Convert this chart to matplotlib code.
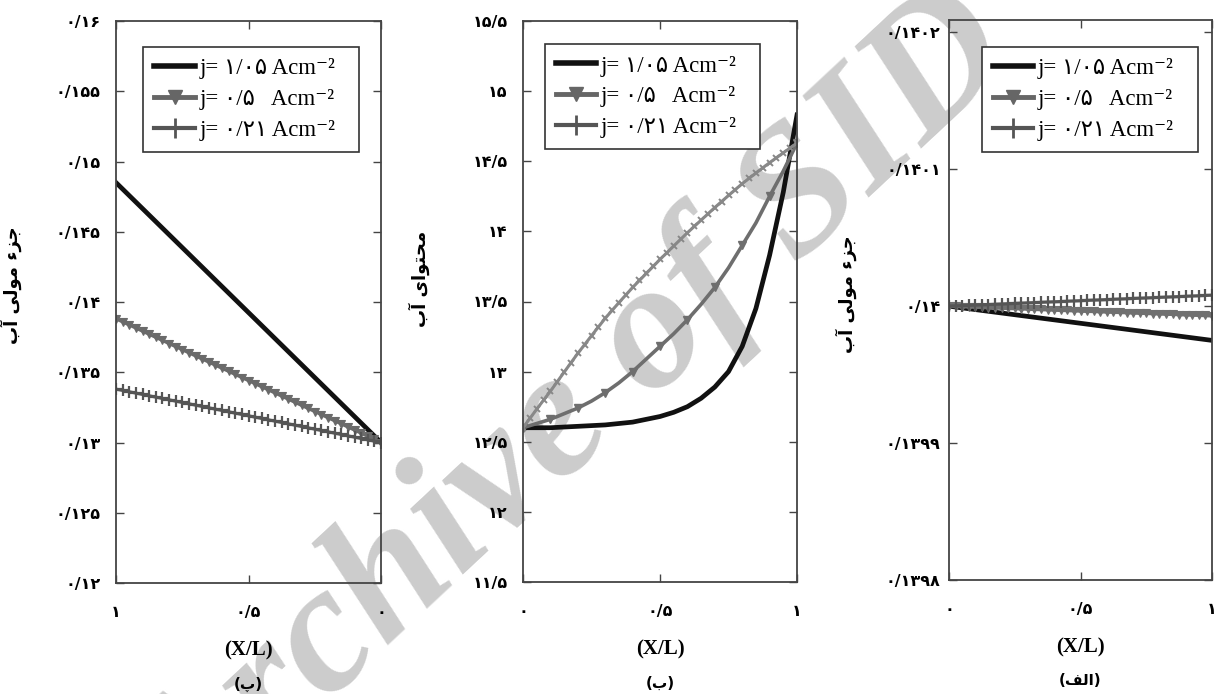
import matplotlib
matplotlib.use("Agg")
import matplotlib.pyplot as plt
from matplotlib.lines import Line2D
from matplotlib.font_manager import FontProperties

# ---------------- data ----------------
X11 = [0.0, 0.1, 0.2, 0.3, 0.4, 0.5, 0.6, 0.7, 0.8, 0.9, 1.0]
X21 = [0.0, 0.05, 0.1, 0.15, 0.2, 0.25, 0.3, 0.35, 0.4, 0.45, 0.5,
       0.55, 0.6, 0.65, 0.7, 0.75, 0.8, 0.85, 0.9, 0.95, 1.0]
X41 = [0.0, 0.025, 0.05, 0.075, 0.1, 0.125, 0.15, 0.175, 0.2, 0.225,
       0.25, 0.275, 0.3, 0.325, 0.35, 0.375, 0.4, 0.425, 0.45, 0.475,
       0.5, 0.525, 0.55, 0.575, 0.6, 0.625, 0.65, 0.675, 0.7, 0.725,
       0.75, 0.775, 0.8, 0.825, 0.85, 0.875, 0.9, 0.925, 0.95, 0.975, 1.0]

# panel (پ): water mole fraction, x axis reversed
P1_J105 = [0.13, 0.13185, 0.1337, 0.13555, 0.1374, 0.13925, 0.1411,
           0.14295, 0.1448, 0.14665, 0.1485]
P1_J05 = [0.13000, 0.13022, 0.13044, 0.13066, 0.13088, 0.13110, 0.13132,
          0.13154, 0.13176, 0.13198, 0.13220, 0.13242, 0.13264, 0.13286,
          0.13308, 0.13330, 0.13352, 0.13374, 0.13396, 0.13418, 0.13440,
          0.13462, 0.13484, 0.13506, 0.13528, 0.13550, 0.13572, 0.13594,
          0.13616, 0.13638, 0.13660, 0.13682, 0.13704, 0.13726, 0.13748,
          0.13770, 0.13792, 0.13814, 0.13836, 0.13858, 0.13880]
P1_J021 = [0.130000, 0.130095, 0.130190, 0.130285, 0.130380, 0.130475,
           0.130570, 0.130665, 0.130760, 0.130855, 0.130950, 0.131045,
           0.131140, 0.131235, 0.131330, 0.131425, 0.131520, 0.131615,
           0.131710, 0.131805, 0.131900, 0.131995, 0.132090, 0.132185,
           0.132280, 0.132375, 0.132470, 0.132565, 0.132660, 0.132755,
           0.132850, 0.132945, 0.133040, 0.133135, 0.133230, 0.133325,
           0.133420, 0.133515, 0.133610, 0.133705, 0.133800]

# panel (ب): water content
P2_J105 = [12.60, 12.60, 12.60, 12.605, 12.61, 12.615, 12.62, 12.63, 12.64,
           12.66, 12.68, 12.71, 12.75, 12.81, 12.89, 13.00, 13.18, 13.45,
           13.83, 14.28, 14.83]
P2_J05 = [12.60, 12.63, 12.66, 12.70, 12.74, 12.79, 12.85, 12.92, 13.00,
          13.09, 13.18, 13.27, 13.37, 13.48, 13.60, 13.74, 13.90, 14.06,
          14.25, 14.43, 14.63]
P2_J021 = [12.600, 12.666, 12.732, 12.797, 12.860, 12.928, 12.996, 13.063,
           13.130, 13.193, 13.256, 13.318, 13.380, 13.436, 13.492, 13.546,
           13.600, 13.650, 13.700, 13.750, 13.800, 13.848, 13.896, 13.943,
           13.990, 14.035, 14.080, 14.125, 14.170, 14.213, 14.256, 14.298,
           14.340, 14.378, 14.416, 14.453, 14.490, 14.525, 14.560, 14.595,
           14.630]

# panel (الف): water mole fraction
P3_J105 = [0.14, 0.1399975, 0.139995, 0.1399925, 0.13999, 0.1399875,
           0.139985, 0.1399825, 0.13998, 0.1399775, 0.139975]
P3_J05 = [0.1400000, 0.1399998, 0.1399997, 0.1399995, 0.1399993, 0.1399991,
          0.1399990, 0.1399988, 0.1399986, 0.1399984, 0.1399983, 0.1399981,
          0.1399979, 0.1399977, 0.1399976, 0.1399974, 0.1399972, 0.1399970,
          0.1399969, 0.1399967, 0.1399965, 0.1399963, 0.1399962, 0.1399960,
          0.1399958, 0.1399956, 0.1399955, 0.1399953, 0.1399951, 0.1399949,
          0.1399948, 0.1399946, 0.1399944, 0.1399942, 0.1399941, 0.1399939,
          0.1399937, 0.1399935, 0.1399934, 0.1399932, 0.1399930]
P3_J021 = [0.1400000, 0.1400002, 0.1400004, 0.1400006, 0.1400008, 0.1400010,
           0.1400012, 0.1400014, 0.1400016, 0.1400018, 0.1400020, 0.1400022,
           0.1400024, 0.1400026, 0.1400028, 0.1400030, 0.1400032, 0.1400034,
           0.1400036, 0.1400038, 0.1400040, 0.1400042, 0.1400044, 0.1400046,
           0.1400048, 0.1400050, 0.1400052, 0.1400054, 0.1400056, 0.1400058,
           0.1400060, 0.1400062, 0.1400064, 0.1400066, 0.1400068, 0.1400070,
           0.1400072, 0.1400074, 0.1400076, 0.1400078, 0.1400080]

# tick labels
X_TICKS = [0, 0.5, 1]
X_TICKLABELS = ["۰", "۰/۵", "۱"]
P1_YTICKS = [0.12, 0.125, 0.13, 0.135, 0.14, 0.145, 0.15, 0.155, 0.16]
P1_YLABELS = ["۰/۱۲", "۰/۱۲۵", "۰/۱۳", "۰/۱۳۵", "۰/۱۴", "۰/۱۴۵", "۰/۱۵",
              "۰/۱۵۵", "۰/۱۶"]
P2_YTICKS = [11.5, 12, 12.5, 13, 13.5, 14, 14.5, 15, 15.5]
P2_YLABELS = ["۱۱/۵", "۱۲", "۱۲/۵", "۱۳", "۱۳/۵", "۱۴", "۱۴/۵", "۱۵", "۱۵/۵"]
P3_YTICKS = [0.1398, 0.1399, 0.14, 0.1401, 0.1402]
P3_YLABELS = ["۰/۱۳۹۸", "۰/۱۳۹۹", "۰/۱۴", "۰/۱۴۰۱", "۰/۱۴۰۲"]

LEGEND_LABELS = ["j= ۱/۰۵ Acm⁻²", "j= ۰/۵   Acm⁻²", "j= ۰/۲۱ Acm⁻²"]

# Persian texts in visual order with presentation forms
YLABEL_MOLE = "\uFE8F\uFE81 \uFBFD\uFEDF\uFEEE\uFEE3 \uFE80\uFEB0\uFE9F"   # جزء مولی آب
YLABEL_CONTENT = "\uFE8F\uFE81 \uFBFC\uFE8D\uFEEE\uFE98\uFEA4\uFEE3"        # محتوای آب
CAPTIONS = ["(\uFB56)", "(\uFE8F)", "(\uFED2\uFEDF\uFE8D)"]                  # (پ) (ب) (الف)
XLABEL = "(X/L)"
WATERMARK = "Archive of SID"

# ---------------- figure ----------------
fig = plt.figure(figsize=(12.2, 6.94), dpi=100)
fig.patch.set_facecolor("white")

W, H = 1220.0, 694.0
def box(l, r, t, b):
    return [l / W, (H - b) / H, (r - l) / W, (b - t) / H]

ax1 = fig.add_axes(box(116, 381, 21, 583))
ax2 = fig.add_axes(box(523, 797, 21, 582))
ax3 = fig.add_axes(box(949, 1212, 20, 580))

# watermark of the source scan (behind the data, runs off the page)
fig.text(0.471, 0.395, WATERMARK, rotation=43, fontsize=132,
         fontweight="bold", style="italic", family="Liberation Serif",
         color="#cccccc", ha="center", va="center", zorder=-1,
         rotation_mode="anchor")

tick_font = dict(family=["DejaVu Sans"], weight="bold", size=11.5)
serif_list = ["Liberation Serif", "DejaVu Sans"]

def style_axes(ax, yticks, ylabels, ylim, reverse=False, ypad=10):
    ax.set_facecolor("none")
    ax.set_xlim(1, 0) if reverse else ax.set_xlim(0, 1)
    ax.set_ylim(*ylim)
    ax.set_xticks(X_TICKS)
    ax.set_xticklabels(X_TICKLABELS, fontdict=tick_font)
    ax.set_yticks(yticks)
    ax.set_yticklabels(ylabels, fontdict=tick_font)
    ax.tick_params(direction="in", top=True, right=True, length=6,
                   width=1.0, color="#444444")
    ax.tick_params(axis="x", pad=16)
    ax.tick_params(axis="y", pad=ypad)
    for s in ax.spines.values():
        s.set_color("#444444")
        s.set_linewidth(1.3)

C_BLACK = "#111111"
C_TRI = "#6a6a6a"
C_PLUS = "#555555"

# panel 1
ax1.plot(X11, P1_J105, color=C_BLACK, lw=3.4)
ax1.plot(X41, P1_J05, color=C_TRI, lw=2.2, marker="v", ms=6, mew=0.8)
ax1.plot(X41, P1_J021, color=C_PLUS, lw=2.2, marker="+", ms=8, mew=1.6)
style_axes(ax1, P1_YTICKS, P1_YLABELS, (0.12, 0.16), reverse=True, ypad=11)

# panel 2
ax2.plot(X21, P2_J105, color=C_BLACK, lw=3.4)
ax2.plot(X21, P2_J05, color="#6e6e6e", lw=2.6, marker="v", ms=6,
         markevery=2)
ax2.plot(X41, P2_J021, color="#888888", lw=2.2, marker="x", ms=5, mew=1.4)
style_axes(ax2, P2_YTICKS, P2_YLABELS, (11.5, 15.5), ypad=11)

# panel 3
ax3.plot(X11, P3_J105, color=C_BLACK, lw=3.4)
ax3.plot(X41, P3_J05, color="#707070", lw=2.6, marker="v", ms=6, mew=0.8)
ax3.plot(X41, P3_J021, color=C_PLUS, lw=2.2, marker="+", ms=8, mew=1.6)
style_axes(ax3, P3_YTICKS, P3_YLABELS, (0.1398, 0.140209), ypad=6)

handles = [
    Line2D([], [], color=C_BLACK, lw=4),
    Line2D([], [], color="#666666", lw=3.5, marker="v", ms=10),
    Line2D([], [], color=C_PLUS, lw=3, marker="+", ms=15, mew=2),
]
leg_prop = FontProperties(family=serif_list, size=16.5)
legend_boxes = [(0.102, 0.763, 0.815, 0.191),
                (0.080, 0.766, 0.785, 0.193),
                (0.125, 0.761, 0.822, 0.191)]
for ax, bb in zip([ax1, ax2, ax3], legend_boxes):
    leg = ax.legend(handles, LEGEND_LABELS, loc="upper left",
                    bbox_to_anchor=bb, mode="expand", prop=leg_prop,
                    frameon=True, fancybox=False, framealpha=1,
                    edgecolor="#333333", handlelength=1.75,
                    handletextpad=0.2, labelspacing=0.42, borderpad=0.5,
                    borderaxespad=0)
    leg.get_frame().set_linewidth(1.2)

# axis labels
ylab_font = dict(family=["DejaVu Sans"], size=13, weight="bold")
ax1.set_ylabel(YLABEL_MOLE, fontdict=ylab_font, rotation=90)
ax1.yaxis.set_label_coords(-0.355, 0.53)
ax2.set_ylabel(YLABEL_CONTENT, fontdict=ylab_font, rotation=90)
ax2.yaxis.set_label_coords(-0.34, 0.54)
ax3.set_ylabel(YLABEL_MOLE, fontdict=ylab_font, rotation=90)
ax3.yaxis.set_label_coords(-0.35, 0.51)

for ax, cap in zip([ax1, ax2, ax3], CAPTIONS):
    ax.text(0.5, -0.12, XLABEL, transform=ax.transAxes, ha="center",
            va="center", family="Liberation Serif", weight="bold", size=15)
    ax.text(0.5, -0.18, cap, transform=ax.transAxes, ha="center",
            va="center", family=["DejaVu Sans"], weight="bold", size=11)

fig.savefig("out.png", dpi=100)
